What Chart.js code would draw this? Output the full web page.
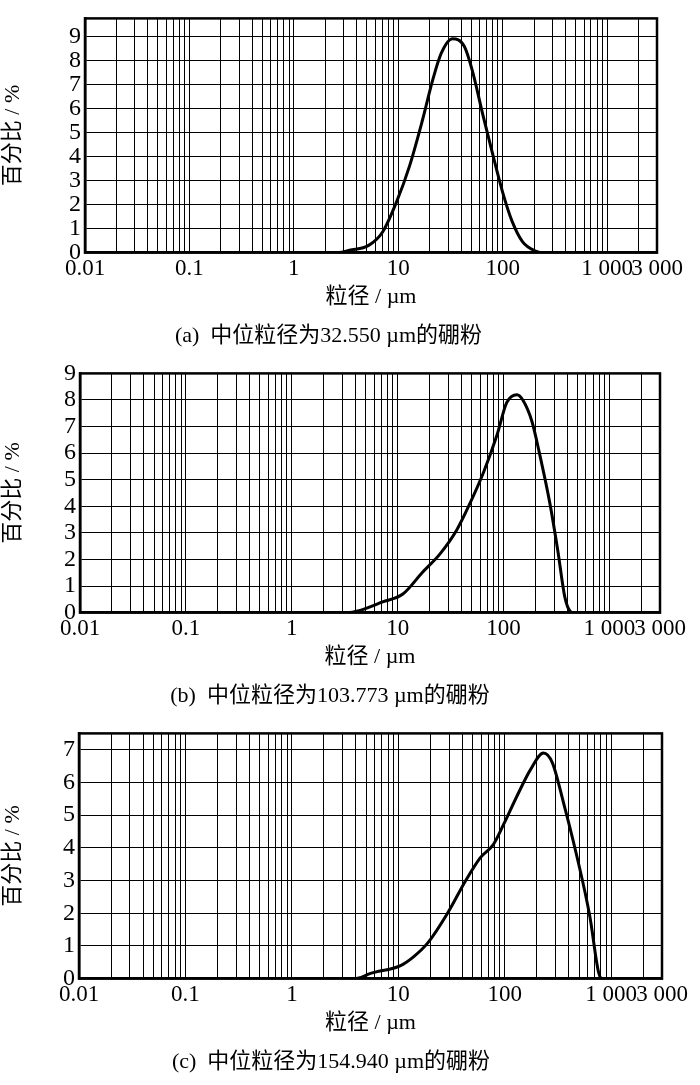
<!DOCTYPE html>
<html>
<head>
<meta charset="utf-8">
<script src="https://cdn.jsdelivr.net/npm/chart.js@4.4.1/dist/chart.umd.min.js"></script>
<style>
  html, body { margin: 0; padding: 0; background: #fff; }
  .box { position: relative; width: 700px; }
</style>
</head>
<body>
<div class="box" style="height:355px"><canvas id="ca"></canvas></div>
<div class="box" style="height:360px"><canvas id="cb"></canvas></div>
<div class="box" style="height:370px"><canvas id="cc"></canvas></div>
<script>
// particle size (µm) and percentage
const sizeA = [0.02, 2.7, 3.4, 5.2, 7.1, 9.6, 12.8, 17, 21.4, 25.8, 33, 42.7, 51, 64, 79, 100, 123, 155, 210, 230, 3000];
const pctA  = [0, 0, 0.1, 0.3, 0.87, 2.1, 3.6, 5.5, 7.2, 8.3, 8.9, 8.6, 7.6, 5.8, 4.2, 2.5, 1.3, 0.45, 0.05, 0, 0];

const sizeB = [0.02, 3.5, 4.1, 7.2, 11.2, 17, 25, 36, 48, 65, 87, 107, 134, 152, 185, 218, 274, 326, 378, 425, 460, 3000];
const pctB  = [0, 0, 0.05, 0.4, 0.7, 1.5, 2.2, 3.1, 4.1, 5.3, 6.7, 7.9, 8.2, 8.0, 7.2, 6.0, 4.1, 2.3, 0.6, 0.05, 0, 0];

const sizeC = [0.02, 4, 4.4, 5.4, 10.5, 13.7, 19, 29, 43, 59, 78, 97, 131, 175, 231, 280, 355, 475, 630, 760, 820, 2000];
const pctC  = [0, 0, 0.03, 0.15, 0.4, 0.65, 1.1, 2.0, 3.0, 3.7, 4.1, 4.7, 5.6, 6.4, 6.9, 6.6, 5.4, 3.75, 1.9, 0.2, 0, 0];

const xLabels = { 0.01: "0.01", 0.1: "0.1", 1: "1", 10: "10", 100: "100", 1000: "1 000", 3000: "3 000" };
const xGridValues = [];
[0.01, 0.1, 1, 10, 100].forEach(d => { for (let k = 1; k <= 9; k++) xGridValues.push(+(d * k).toPrecision(3)); });
xGridValues.push(1000, 2000, 3000);

const SERIF = "'Liberation Serif', 'Times New Roman', serif";
const CJK = "'Liberation Serif', 'Noto Sans CJK SC', serif";

function makeChart(id, xs, ys, yMax, caption, pad, plotLeft, xAxisH) {
  new Chart(document.getElementById(id), {
    type: "line",
    data: {
      datasets: [{
        data: xs.map((x, i) => ({ x: x, y: ys[i] })),
        borderColor: "#000",
        borderWidth: 3,
        pointRadius: 0,
        cubicInterpolationMode: "monotone",
      }],
    },
    options: {
      responsive: true,
      maintainAspectRatio: false,
      animation: false,
      layout: { padding: pad },
      plugins: {
        legend: { display: false },
        tooltip: { enabled: false },
        title: {
          display: true,
          position: "bottom",
          text: caption,
          color: "#000",
          font: { family: CJK, size: 22, weight: "normal" },
          padding: { top: 12, bottom: 0 },
        },
      },
      scales: {
        x: {
          type: "logarithmic",
          min: 0.01,
          max: 3000,
          afterBuildTicks: s => { s.ticks = xGridValues.map(v => ({ value: v })); },
          afterFit: s => { s.height = xAxisH; },
          ticks: {
            autoSkip: false,
            maxRotation: 0,
            color: "#000",
            padding: 3,
            font: { family: SERIF, size: 23 },
            callback: v => xLabels[v] || "",
          },
          grid: { color: "#000", lineWidth: 1, drawTicks: false },
          border: { color: "#000", width: 2.5 },
          title: {
            display: true,
            text: "粒径 / µm",
            color: "#000",
            font: { family: CJK, size: 22 },
            padding: { top: 0, bottom: 0 },
          },
        },
        y: {
          min: 0,
          max: yMax,
          afterBuildTicks: s => {
            const t = [];
            for (let v = 0; v <= Math.floor(yMax); v++) t.push({ value: v });
            s.ticks = t;
          },
          afterFit: s => { s.width = plotLeft; },
          ticks: {
            autoSkip: false,
            color: "#000",
            padding: 4,
            font: { family: SERIF, size: 24 },
          },
          grid: { color: "#000", lineWidth: 1, drawTicks: false },
          border: { color: "#000", width: 2.5 },
          title: {
            display: true,
            text: "百分比 / %",
            color: "#000",
            font: { family: CJK, size: 22 },
            padding: { top: 0, bottom: 4 },
          },
        },
      },
    },
    plugins: [{
      id: "frame",
      afterDraw(chart) {
        const { ctx, chartArea: a } = chart;
        ctx.save();
        ctx.strokeStyle = "#000";
        ctx.lineWidth = 2.5;
        ctx.strokeRect(a.left, a.top, a.right - a.left, a.bottom - a.top);
        ctx.restore();
      },
    }],
  });
}

makeChart("ca", sizeA, pctA, 9.75, "(a)  中位粒径为32.550 µm的硼粉", { top: 13, right: 43, bottom: 6, left: 0 }, 85, 58);
makeChart("cb", sizeB, pctB, 9, "(b)  中位粒径为103.773 µm的硼粉", { top: 10, right: 40, bottom: 6, left: 0 }, 80, 58);
makeChart("cc", sizeC, pctC, 7.5, "(c)  中位粒径为154.940 µm的硼粉", { top: 12, right: 38, bottom: 10, left: 0 }, 79, 58);
</script>
</body>
</html>
